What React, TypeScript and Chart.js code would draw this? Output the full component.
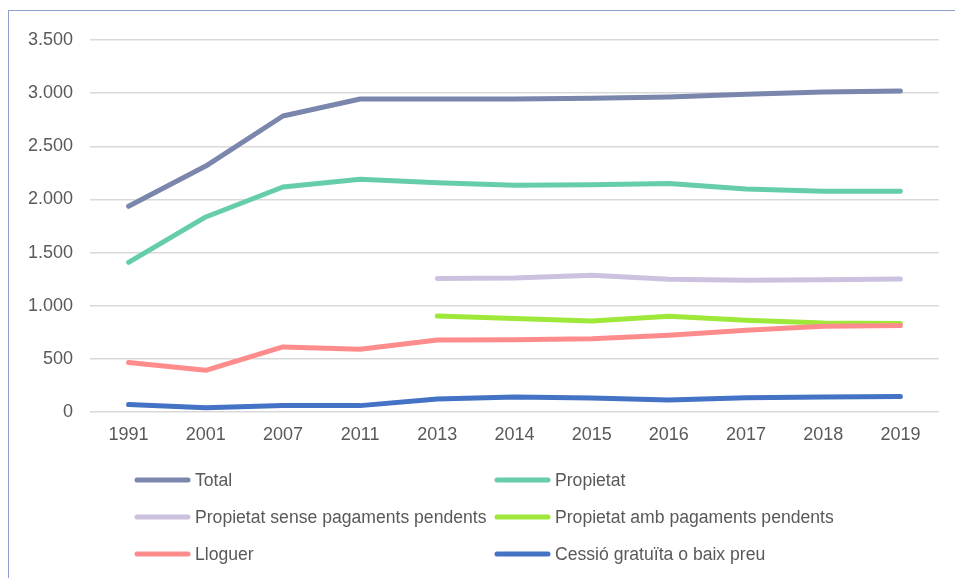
import React, { useEffect, useRef } from "react";
import { Chart, registerables } from "chart.js";

Chart.register(...registerables);

const years = ["1991", "2001", "2007", "2011", "2013", "2014", "2015", "2016", "2017", "2018", "2019"];
const total = [1935, 2314, 2785, 2945, 2945, 2945, 2951, 2964, 2989, 3011, 3020];
const propietat = [1408, 1835, 2117, 2189, 2158, 2133, 2139, 2149, 2098, 2076, 2076];
const propietatSense = [null, null, null, null, 1255, 1261, 1286, 1248, 1239, 1245, 1251];
const propietatAmb = [null, null, null, null, 903, 879, 856, 900, 863, 837, 832];
const lloguer = [465, 392, 612, 590, 677, 680, 690, 722, 769, 806, 813];
const cessio = [70, 41, 60, 60, 122, 141, 132, 113, 135, 141, 145];

const seriesLabels = [
  "Total",
  "Propietat",
  "Propietat sense pagaments pendents",
  "Propietat amb pagaments pendents",
  "Lloguer",
  "Cessió gratuïta o baix preu",
];
const seriesColors = ["#7a86ab", "#66cdaa", "#ccc2e0", "#9ee83a", "#ff8c8c", "#4472c4"];
const seriesData = [total, propietat, propietatSense, propietatAmb, lloguer, cessio];

const TEXT = "#595959";
const FONT = "'Liberation Sans', 'DejaVu Sans', sans-serif";

const legendPlugin = {
  id: "gridLegend",
  afterDraw(chart: any) {
    const ctx = chart.ctx;
    const datasets = chart.data.datasets;
    const colX = [135, 495];
    const rowY = [480, 517, 554];
    ctx.save();
    ctx.font = `17.6px ${FONT}`;
    ctx.textBaseline = "middle";
    ctx.textAlign = "left";
    datasets.forEach((ds: any, i: number) => {
      const x = colX[i % 2];
      const y = rowY[Math.floor(i / 2)];
      ctx.strokeStyle = ds.borderColor;
      ctx.lineWidth = 5;
      ctx.lineCap = "round";
      ctx.beginPath();
      ctx.moveTo(x + 2, y);
      ctx.lineTo(x + 53, y);
      ctx.stroke();
      ctx.fillStyle = TEXT;
      ctx.fillText(ds.label, x + 60, y + 1);
    });
    ctx.restore();
  },
};

export default function App() {
  const ref = useRef<HTMLCanvasElement | null>(null);

  useEffect(() => {
    if (!ref.current) return;
    const chart = new Chart(ref.current, {
      type: "line",
      data: {
        labels: years,
        datasets: seriesData.map((d, i) => ({
          label: seriesLabels[i],
          data: d as any,
          borderColor: seriesColors[i],
          backgroundColor: seriesColors[i],
          borderWidth: 5,
          borderCapStyle: "round" as const,
          borderJoinStyle: "round" as const,
          pointRadius: 0,
          pointHoverRadius: 0,
          tension: 0,
          fill: false,
          order: seriesData.length - i,
        })),
      },
      options: {
        animation: false,
        responsive: false,
        layout: { padding: { left: 0, right: 16, top: 40, bottom: 126 } },
        plugins: {
          legend: { display: false },
          tooltip: { enabled: false },
        },
        scales: {
          x: {
            offset: true,
            grid: { display: false, drawTicks: false },
            border: { display: false },
            ticks: { color: TEXT, font: { family: FONT, size: 18 }, padding: 12, maxRotation: 0 },
            afterFit: (s: any) => {
              s.height = 40;
            },
          },
          y: {
            min: 0,
            max: 3500,
            grid: { color: "#d9d9d9", lineWidth: 1.5, drawTicks: false },
            border: { display: false },
            ticks: {
              stepSize: 500,
              color: TEXT,
              font: { family: FONT, size: 18 },
              padding: 17,
              callback: (v: any) => Number(v).toString().replace(/\B(?=(\d{3})+(?!\d))/g, "."),
            },
            afterFit: (s: any) => {
              s.width = 90;
            },
          },
        },
      },
      plugins: [legendPlugin],
    });
    return () => chart.destroy();
  }, []);

  return (
    <div style={{ position: "fixed", left: 0, top: 0, width: 955, height: 578, background: "#fff", overflow: "hidden" }}>
      <canvas ref={ref} width={955} height={578} style={{ position: "absolute", left: 0, top: 0 }} />
      <div
        style={{
          position: "absolute",
          left: 8,
          top: 10,
          width: 1000,
          height: 700,
          border: "1px solid #8fa0cc",
          pointerEvents: "none",
        }}
      />
    </div>
  );
}
